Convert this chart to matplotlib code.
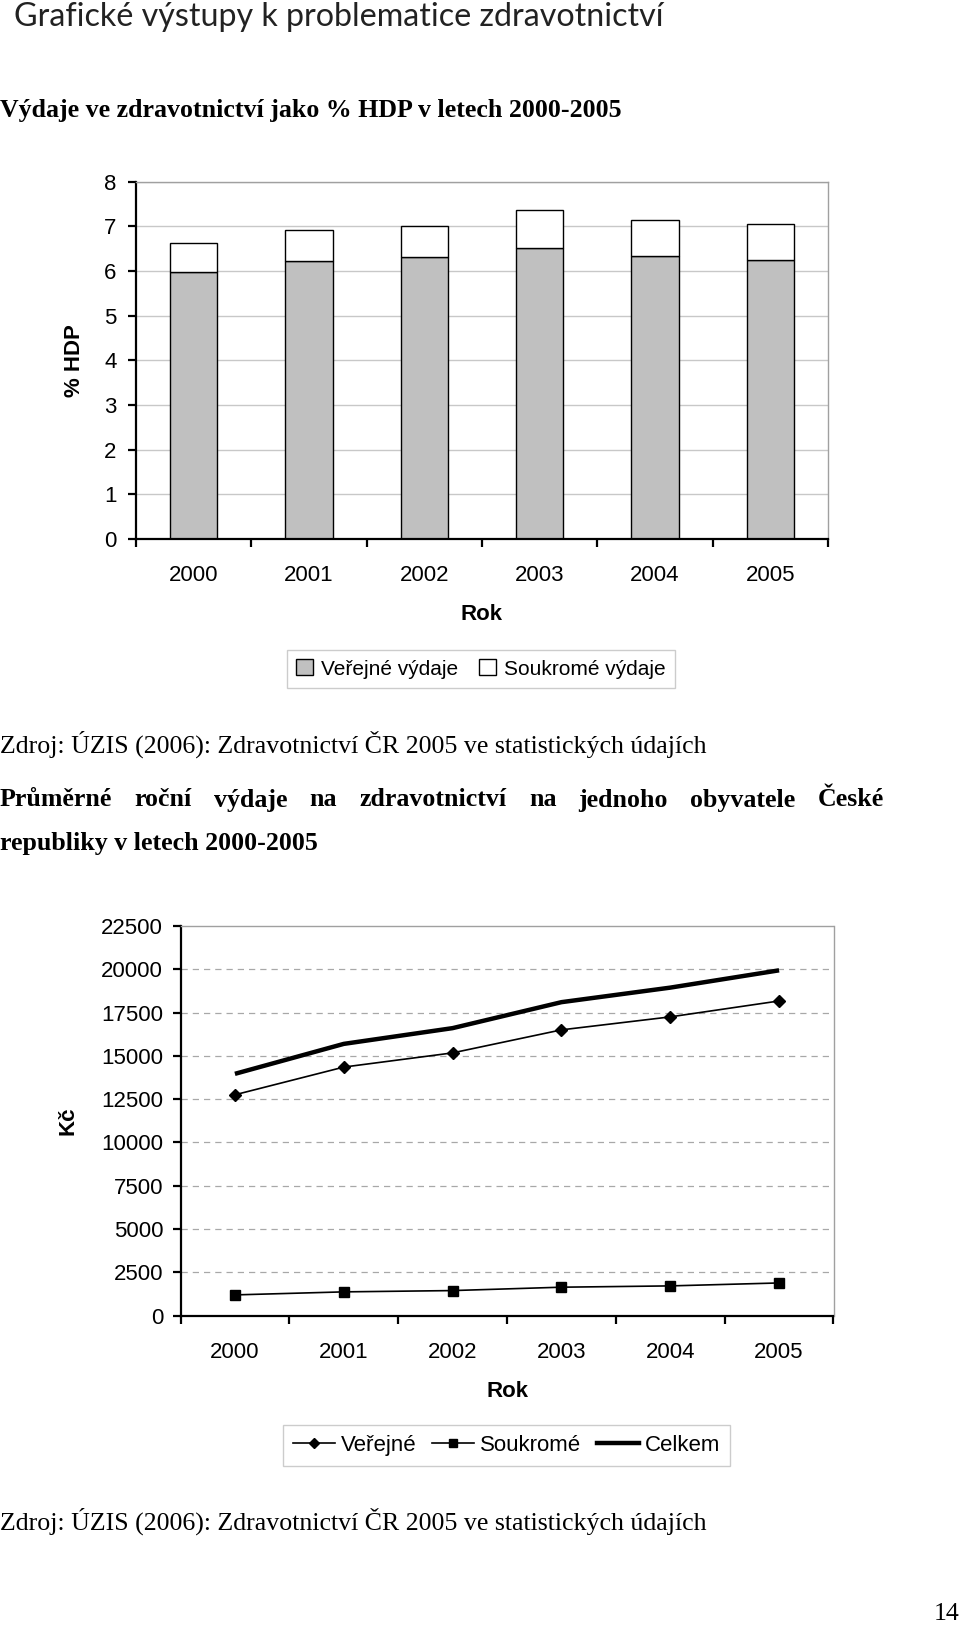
import matplotlib
matplotlib.use('Agg')
import matplotlib.pyplot as plt
from matplotlib.lines import Line2D
from matplotlib.patches import Patch

# data
years = ['2000', '2001', '2002', '2003', '2004', '2005']
verejne_hdp = [5.97, 6.21, 6.30, 6.51, 6.33, 6.24]
soukrome_hdp = [0.66, 0.70, 0.71, 0.85, 0.80, 0.80]

verejne_kc = [12750, 14350, 15170, 16500, 17250, 18170]
soukrome_kc = [1190, 1365, 1440, 1635, 1710, 1880]
celkem_kc = [13960, 15690, 16600, 18100, 18940, 19940]

W, H = 960, 1625
SANS = 'Liberation Sans'
SERIF = 'Liberation Serif'
TICK = 16
BODY = 18.6

fig = plt.figure(figsize=(W / 100, H / 100), dpi=100)


def fx(px):
    return px / W


def fy(py):
    return 1 - py / H


def txt(x, y, s, **kw):
    fig.text(fx(x), fy(y), s, **kw)


def justify(x0, x1, y, s, **kw):
    # spread words over a line the way the page does
    words = s.split()
    r = fig.canvas.get_renderer()
    items = [fig.text(0, fy(y), w, va='center', ha='left', **kw) for w in words]
    widths = [t.get_window_extent(r).width for t in items]
    gap = (x1 - x0 - sum(widths)) / (len(words) - 1)
    x = x0
    for t, w in zip(items, widths):
        t.set_x(fx(x))
        x += w + gap


def style_axes(ax, ypad):
    for side in ['top', 'right']:
        ax.spines[side].set_color('#a0a0a0')
        ax.spines[side].set_linewidth(1.0)
    for side in ['left', 'bottom']:
        ax.spines[side].set_color('black')
        ax.spines[side].set_linewidth(1.6)
    ax.tick_params(axis='y', direction='out', length=6, width=1.6, pad=ypad,
                   labelsize=TICK)
    ax.tick_params(axis='x', which='major', length=0, pad=19, labelsize=TICK)
    ax.tick_params(axis='x', which='minor', direction='out', length=6, width=1.6)
    ax.set_xlim(-0.5, len(years) - 0.5)
    ax.set_xticks(range(len(years)))
    ax.set_xticklabels(years, fontfamily=SANS)
    ax.set_xticks([i - 0.5 for i in range(len(years) + 1)], minor=True)
    for lab in ax.get_yticklabels():
        lab.set_fontfamily(SANS)
    ax.set_axisbelow(True)


# page header
txt(14, 25.5, 'Grafické výstupy k problematice zdravotnictví', fontsize=23.2,
    family='Lato', fontweight='normal', color='#222222', va='baseline')
txt(0, 111, 'Výdaje ve zdravotnictví jako % HDP v letech 2000-2005', fontsize=BODY,
    family=SERIF, fontweight='bold', va='center')

# bar chart
ax1 = fig.add_axes([fx(136), fy(539), fx(828 - 136), (539 - 181.5) / H])
x = range(len(years))
ax1.bar(x, verejne_hdp, width=0.41, color='#c0c0c0', edgecolor='black', linewidth=1.0)
ax1.bar(x, soukrome_hdp, width=0.41, bottom=verejne_hdp, color='white',
        edgecolor='black', linewidth=1.0)
ax1.set_ylim(0, 8)
ax1.set_yticks(range(0, 9))
ax1.yaxis.grid(True, color='#c8c8c8', linewidth=1.0)
style_axes(ax1, 8)
ax1.set_xlabel('Rok', fontsize=TICK, fontweight='bold', family=SANS, labelpad=13)
ax1.set_ylabel('% HDP', fontsize=TICK, fontweight='bold', family=SANS, labelpad=14)

handles1 = [Patch(facecolor='#c0c0c0', edgecolor='black', label='Veřejné výdaje'),
            Patch(facecolor='white', edgecolor='black', label='Soukromé výdaje')]
leg1 = fig.legend(handles=handles1, loc='center', bbox_to_anchor=(fx(481), fy(669)),
                  ncol=2, frameon=True, fancybox=False, handlelength=0.8,
                  handleheight=0.8, handletextpad=0.4, columnspacing=1.0,
                  prop={'family': SANS, 'size': TICK - 1}, borderpad=0.45)
leg1.get_frame().set_edgecolor('#c0c0c0')
leg1.get_frame().set_linewidth(1.0)

txt(0, 744, 'Zdroj: ÚZIS (2006): Zdravotnictví ČR 2005 ve statistických údajích',
    fontsize=BODY, family=SERIF, va='center')
justify(0, 884, 800, 'Průměrné roční výdaje na zdravotnictví na jednoho obyvatele České',
        fontsize=BODY, family=SERIF, fontweight='bold')
txt(0, 844, 'republiky v letech 2000-2005', fontsize=BODY, family=SERIF,
    fontweight='bold', va='center')

# line chart
ax2 = fig.add_axes([fx(180.5), fy(1315.5), fx(833.5 - 180.5), (1315.5 - 926) / H])
ax2.plot(x, verejne_kc, color='black', linewidth=1.2, marker='D', markersize=6)
ax2.plot(x, soukrome_kc, color='black', linewidth=1.2, marker='s', markersize=6.5)
ax2.plot(x, celkem_kc, color='black', linewidth=3.2, solid_capstyle='butt')
ax2.set_ylim(0, 22500)
ax2.set_yticks(range(0, 22501, 2500))
ax2.yaxis.grid(True, color='#a8a8a8', linewidth=0.9, linestyle=(0, (5, 4)))
style_axes(ax2, 6.5)
ax2.get_ygridlines()[-1].set_visible(False)
ax2.set_xlabel('Rok', fontsize=TICK, fontweight='bold', family=SANS, labelpad=13)
ax2.set_ylabel('Kč', fontsize=TICK, fontweight='bold', family=SANS, labelpad=16)

handles2 = [Line2D([], [], color='black', linewidth=1.2, marker='D', markersize=5,
                   label='Veřejné'),
            Line2D([], [], color='black', linewidth=1.2, marker='s', markersize=6,
                   label='Soukromé'),
            Line2D([], [], color='black', linewidth=3.2, label='Celkem')]
leg2 = fig.legend(handles=handles2, loc='center', bbox_to_anchor=(fx(506.5), fy(1445.5)),
                  ncol=3, frameon=True, fancybox=False, handlelength=1.9,
                  handletextpad=0.25, columnspacing=0.7,
                  prop={'family': SANS, 'size': TICK}, borderpad=0.45)
leg2.get_frame().set_edgecolor('#c0c0c0')
leg2.get_frame().set_linewidth(1.0)

txt(0, 1521, 'Zdroj: ÚZIS (2006): Zdravotnictví ČR 2005 ve statistických údajích',
    fontsize=BODY, family=SERIF, va='center')
txt(959, 1614, '14', fontsize=BODY, family=SERIF, ha='right', va='center')

fig.savefig('out.png', dpi=100)
